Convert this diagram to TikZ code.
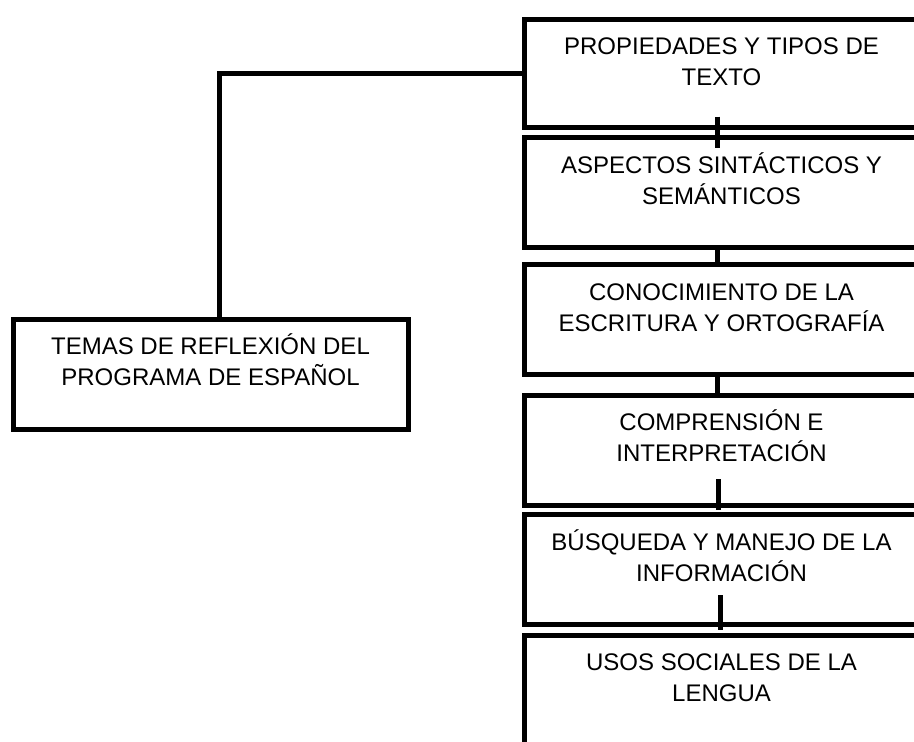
\documentclass[tikz,border=0pt]{standalone}
\usepackage{fontspec}
\setmainfont{Liberation Sans}
\usetikzlibrary{positioning}

\newcommand{\boxstrut}{\rule{0pt}{24pt}}

\tikzset{
  tbox/.style={draw, fill=white, line width=5pt, line join=miter,
    minimum width=395pt, minimum height=110pt, inner sep=0pt, outer sep=0pt},
  ttext/.style={font=\fontsize{24}{31}\selectfont, align=center,
    inner sep=0pt, outer sep=0pt},
  link/.style={line width=5pt, line join=miter}
}

\begin{document}
\begin{tikzpicture}[x=1pt,y=-1pt]
        \useasboundingbox (0,0) rectangle (914,742);
        % boxes on the right
        \node[tbox, minimum height=108pt] (prop) at (721.5,73) {};
        \node[tbox] (sint) at (721.5,192.5) {};
        \node[tbox] (escr) at (721.5,319.5) {};
        \node[tbox] (comp) at (721.5,450) {};
        \node[tbox] (busq) at (721.5,569.5) {};
        \node[tbox] (usos) at (721.5,690) {};
        % box on the left
        \node[tbox] (temas) at (210.5,374) {};
        \node[ttext, below=11.5pt of prop.north] (propT) {\boxstrut PROPIEDADES Y TIPOS DE\\TEXTO};
        \node[ttext, below=11.5pt of sint.north] (sintT) {\boxstrut ASPECTOS SINTÁCTICOS Y\\SEMÁNTICOS};
        \node[ttext, below=11.5pt of escr.north] (escrT) {\boxstrut CONOCIMIENTO DE LA\\ESCRITURA Y ORTOGRAFÍA};
        \node[ttext, below=11.5pt of comp.north] (compT) {\boxstrut COMPRENSIÓN E\\INTERPRETACIÓN};
        \node[ttext, below=11.5pt of busq.north] (busqT) {\boxstrut BÚSQUEDA Y MANEJO DE LA\\INFORMACIÓN};
        \node[ttext, below=11.5pt of usos.north] (usosT) {\boxstrut USOS SOCIALES DE LA\\LENGUA};
        \node[ttext, below=11.5pt of temas.north] (temasT) {\boxstrut TEMAS DE REFLEXIÓN DEL\\PROGRAMA DE ESPAÑOL};
        % connectors
        \draw[link] ([xshift=8.5pt]temas.north) |- (prop.west);
        \draw[link] ([xshift=-4.5pt,yshift=10.5pt]prop.south) -- ([xshift=-4.5pt,yshift=-10.5pt]sint.north);
        \draw[link] ([xshift=-4.5pt]sint.south) -- ([xshift=-4.5pt]escr.north);
        \draw[link] ([xshift=-4.5pt]escr.south) -- ([xshift=-4.5pt]comp.north);
        \draw[link] ([xshift=-3pt,yshift=26pt]comp.south) -- ([xshift=-3pt,yshift=4.5pt]busq.north);
        \draw[link] ([xshift=-1.5pt,yshift=29.5pt]busq.south) -- ([xshift=-1.5pt,yshift=5pt]usos.north);
    \end{tikzpicture}
\end{document}
